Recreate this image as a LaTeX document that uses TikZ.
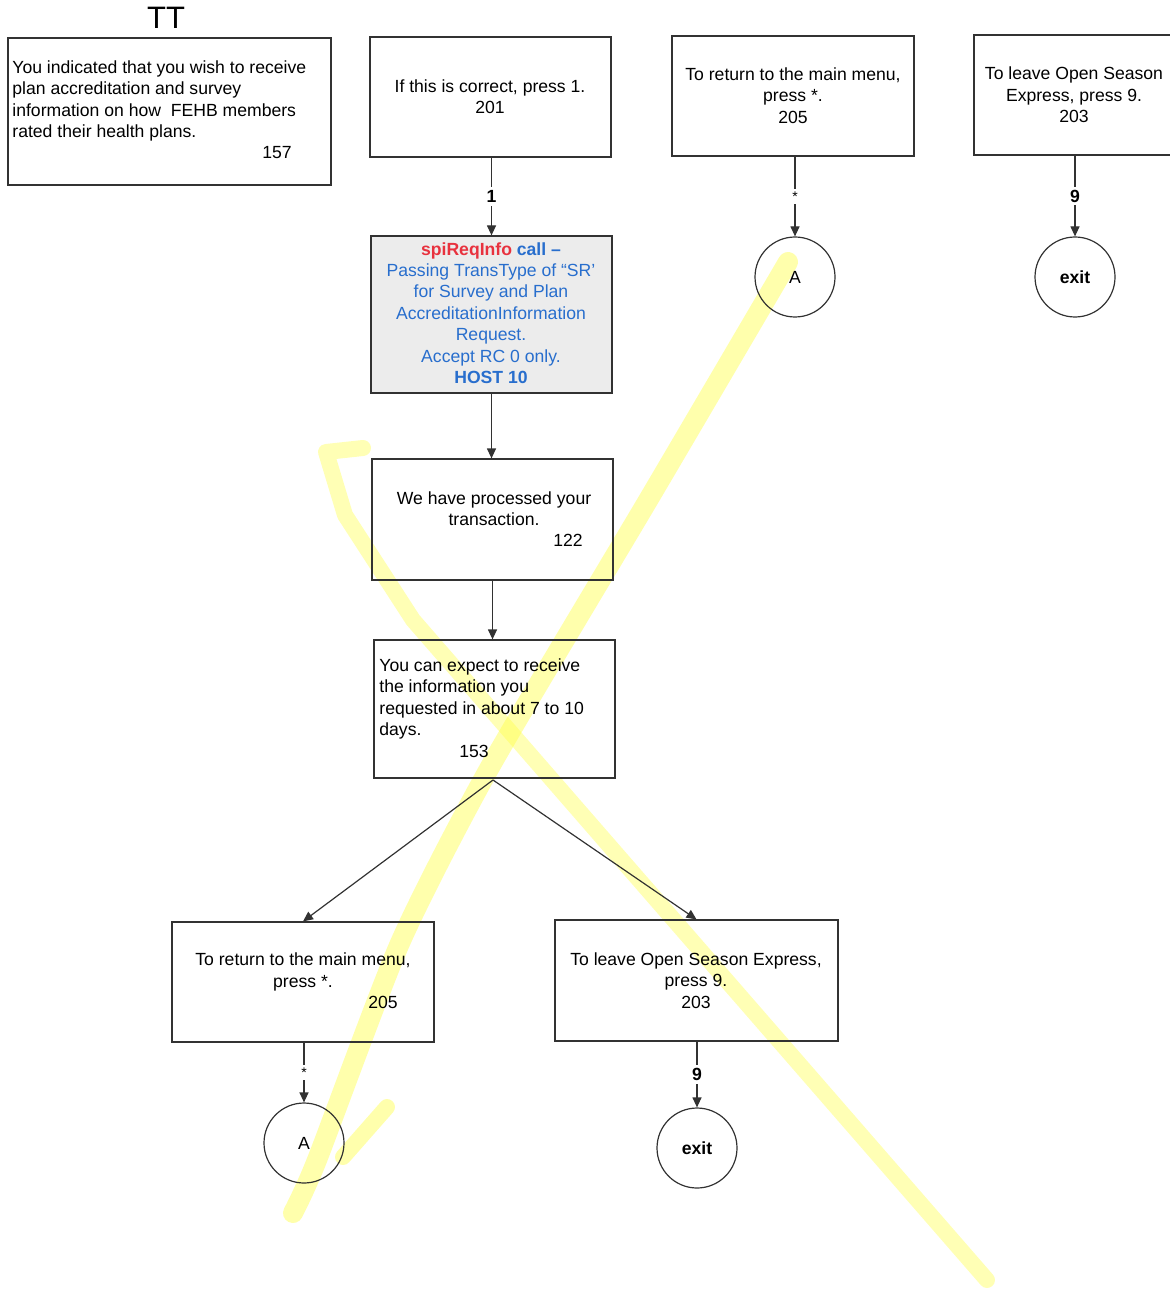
\documentclass[tikz,border=0pt]{standalone}
\usepackage{fontspec}
\setmainfont{Liberation Sans}
\usetikzlibrary{arrows.meta}
\definecolor{lineGray}{RGB}{50,50,50}
\definecolor{spiBlue}{RGB}{40,110,205}
\definecolor{spiRed}{RGB}{232,50,62}
\definecolor{spiFill}{RGB}{236,236,236}
\definecolor{hiYellow}{RGB}{255,255,70}
\tikzset{
  box/.style={draw=lineGray, line width=0.6pt, inner sep=0pt},
  txt/.style={inner sep=0pt, font=\fontsize{8.8}{10.7}\selectfont},
  lbl/.style={inner sep=1.5pt, fill=white, font=\fontsize{8.8}{10.7}\selectfont\bfseries},
  circ/.style={draw=lineGray, line width=0.6pt, circle, minimum size=40pt, inner sep=0pt, font=\fontsize{8.8}{10.7}\selectfont},
  conn/.style={draw=lineGray, line width=0.6pt, -{Triangle[length=5pt,width=4.5pt]}},
  hilite/.style={draw=hiYellow, opacity=0.45, line cap=round, line join=round}
}
\begin{document}
\begin{tikzpicture}[x=0.5pt,y=-0.5pt]
\useasboundingbox (0,0) rectangle (1169,1294);

% highlighter strokes
\draw[hilite, line width=10pt] plot[smooth, tension=0.4] coordinates {(788,262) (650,497) (490,767) (400,943) (317,1160) (293,1213)};
\draw[hilite, line width=8pt, opacity=0.4] (363,448) -- (326,452) -- (345,515) -- (413,620) -- (987,1280);
\draw[hilite, line width=8pt] (387,1107) -- (343,1157);

% title
\node[inner sep=0pt, font=\fontsize{15.5}{17}\selectfont] (title) at (166,18) {TT};

% boxes
\node[box, minimum width=161.5pt, minimum height=73.5pt] (b157) at (169.5,111.5) {};
\node[box, minimum width=120.5pt, minimum height=60pt] (b201) at (490.5,97) {};
\node[box, minimum width=121pt, minimum height=60pt] (b205t) at (793,96) {};
\node[box, minimum width=100pt, minimum height=60pt] (b203t) at (1074,95) {};
\node[box, fill=spiFill, minimum width=120.5pt, minimum height=78.5pt] (spi) at (491.5,314.5) {};
\node[box, minimum width=120.5pt, minimum height=60.5pt] (b122) at (492.5,519.5) {};
\node[box, minimum width=120.5pt, minimum height=69pt] (b153) at (494.5,709) {};
\node[box, minimum width=131pt, minimum height=60pt] (b205b) at (303,982) {};
\node[box, minimum width=141.5pt, minimum height=60.5pt] (b203b) at (696.5,980.5) {};

% box texts
\node[txt, anchor=west, align=left] (t157) at (12,101) {You indicated that you wish to receive\\plan accreditation and survey\\information on how\ \ FEHB members\\rated their health plans.};
\node[txt] (n157) at (277,153) {157};
\node[txt, align=center] (t201) at (490,97) {If this is correct, press 1.\\201};
\node[txt, align=center] (t205t) at (793,95.5) {To return to the main menu,\\press *.\\205};
\node[txt, align=center] (t203t) at (1074,95) {To leave Open Season\\Express, press 9.\\203};
\node[txt, align=center, text=spiBlue] (tspi) at (491,313) {\textbf{\textcolor{spiRed}{spiReqInfo} call –}\\Passing TransType of “SR’\\for Survey and Plan\\AccreditationInformation\\Request.\\Accept RC 0 only.\\\textbf{HOST 10}};
\node[txt, align=center] (t122) at (494,508.5) {We have processed your\\transaction.};
\node[txt] (n122) at (568,540) {122};
\node[txt, anchor=west, align=left] (t153) at (379,699) {You can expect to receive\\the information you\\requested in about 7 to 10\\days.};
\node[txt] (n153) at (474,751) {153};
\node[txt, align=center] (t205b) at (303,972) {To return to the main menu,\\press *.};
\node[txt] (n205b) at (383,1002) {205};
\node[txt, align=center] (t203b) at (696,980.5) {To leave Open Season Express,\\press 9.\\203};

% circles
\node[circ] (Atop) at (795,277) {A};
\node[circ, font=\fontsize{8.8}{10.7}\selectfont\bfseries] (exitTop) at (1075,277) {exit};
\node[circ] (Abot) at (304,1143) {A};
\node[circ, font=\fontsize{8.8}{10.7}\selectfont\bfseries] (exitBot) at (697,1148) {exit};

% connectors
\draw[conn] (b201.south -| spi.north) -- node[lbl] {1} (spi.north);
\draw[conn] (spi.south) -- (spi.south |- b122.north);
\draw[conn] (b122.south) -- (b122.south |- b153.north);
\draw[conn] (Atop.north |- b205t.south) -- node[lbl, font=\fontsize{7}{8}\selectfont] {*} (Atop.north);
\draw[conn] (exitTop.north |- b203t.south) -- node[lbl] {9} (exitTop.north);
\coordinate (split) at (493,780);
\draw[conn] (split) -- (b205b.north);
\draw[conn] (split) -- (b203b.north);
\draw[conn] (Abot.north |- b205b.south) -- node[lbl, font=\fontsize{7}{8}\selectfont] {*} (Abot.north);
\draw[conn] (exitBot.north |- b203b.south) -- node[lbl] {9} (exitBot.north);
\end{tikzpicture}
\end{document}
